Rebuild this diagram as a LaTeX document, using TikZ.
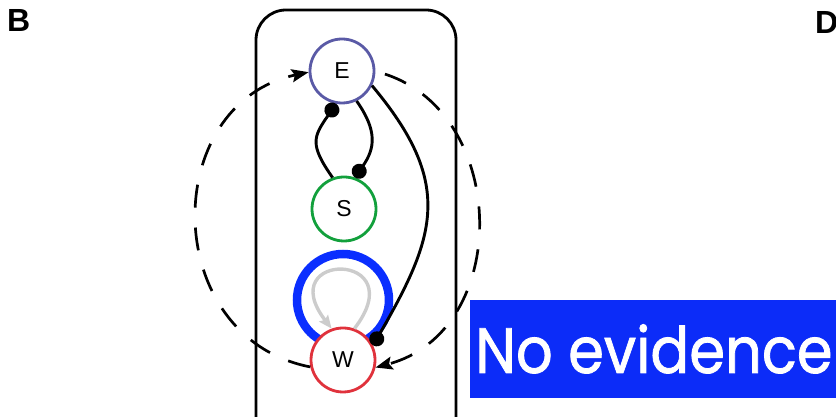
\documentclass[tikz,border=0pt]{standalone}
\usepackage{fontspec}
\setmainfont{Liberation Sans}
\newfontfamily\notefont[FakeBold=1.3]{Poppins}
\usetikzlibrary{arrows.meta}

\definecolor{nodeE}{HTML}{5A5AA6}
\definecolor{nodeS}{HTML}{12A03C}
\definecolor{nodeW}{HTML}{E0323C}
\definecolor{loopblue}{HTML}{0A2EFF}
\definecolor{boxblue}{HTML}{0C2CF8}
\definecolor{loopgray}{HTML}{CCCCCC}

\tikzset{
  species/.style={circle, draw, line width=2.8pt, minimum size=64pt, inner sep=0pt,
    font=\fontsize{23}{23}\selectfont},
  blunt/.style={line width=2.9pt, -{Circle[length=15pt]}},
  dasharc/.style={line width=2.7pt, dash pattern=on 23pt off 20pt,
    -{Stealth[length=17pt,width=13pt,inset=3pt]}},
  selfloop/.style={draw=loopgray, line width=3.4pt,
    -{Stealth[length=13pt,width=11pt,inset=2pt]}},
  panel/.style={font=\bfseries\fontsize{32}{32}\selectfont, inner sep=0pt, anchor=base west}
}

\begin{document}
\begin{tikzpicture}[x=1pt,y=1pt]
\useasboundingbox (0,0) rectangle (836,417);
\clip (0,0) rectangle (836,417);

% panel letters
\node[panel] (lblB) at (7,385) {B};
\node[panel] (lblD) at (815,383) {D};

% enclosing compartment
\draw[line width=2.8pt, rounded corners=30pt] (256,407) rectangle (456,-40);

% species
\node[species, draw=nodeE] (E) at (342,346) {E};
\node[species, draw=nodeS] (S) at (344,208) {S};
\node[circle, draw=loopblue, line width=8.5pt, minimum size=92pt, inner sep=0pt] (Wring) at (343,117) {};
\node[species, draw=nodeW, fill=white] (W) at (343,57) {W};

% self-activation of W
\draw[selfloop] (W.70) .. controls +(60,78) and +(-60,78) .. (W.110);

% repression between E and S
\draw[blunt] (S.110) to[out=125,in=235,looseness=1.4] (E.-100);
\draw[blunt] (E.-64) to[out=-55,in=55,looseness=1.2] (S.71);

% repression of W by E
\draw[blunt] (E.-26) to[out=-50,in=60,looseness=1.25] (W.26);

% indirect links between W and E
\draw[dasharc] (W.192) to[out=169,in=192,looseness=1.33] (E.182);
\draw[dasharc, shorten <=10pt] (E.0) to[out=-18,in=15,looseness=1.22] (W.-13);

% evidence tag
\node[fill=boxblue, minimum width=370pt, minimum height=98pt, inner sep=0pt,
      anchor=south west] (tag) at (470,19) {};
\node[text=white, font=\notefont\fontsize{64}{64}\selectfont, inner sep=0pt,
      anchor=base] (tagtext) at (654,44) {\scalebox{0.9}[1]{No evidence}};
\end{tikzpicture}
\end{document}
